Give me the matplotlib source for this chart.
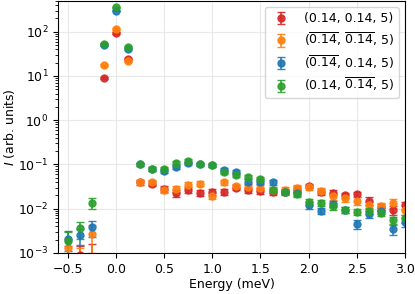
import matplotlib
matplotlib.use("Agg")
import matplotlib.pyplot as plt
import numpy as np

energy = [-0.5, -0.375, -0.25, -0.125, 0.0, 0.125, 0.25, 0.375, 0.5, 0.625, 0.75,
          0.875, 1.0, 1.125, 1.25, 1.375, 1.5, 1.625, 1.75, 1.875, 2.0, 2.125,
          2.25, 2.375, 2.5, 2.625, 2.75, 2.875, 3.0]

red = [0.0007, 0.0009, 0.0008, 9, 93, 24, 0.040, 0.037, 0.028, 0.022, 0.027,
       0.023, 0.024, 0.024, 0.030, 0.026, 0.025, 0.024, 0.024, 0.028, 0.033,
       0.024, 0.023, 0.020, 0.021, 0.015, 0.011, 0.0093, 0.012]
orange = [0.0013, 0.0008, 0.0026, 18, 117, 22, 0.040, 0.039, 0.027, 0.028, 0.035,
          0.037, 0.0195, 0.039, 0.033, 0.031, 0.030, 0.026, 0.027, 0.030, 0.031,
          0.025, 0.019, 0.017, 0.015, 0.012, 0.0115, 0.0136, 0.0093]
blue = [0.0021, 0.0025, 0.0038, 49, 300, 40, 0.10, 0.078, 0.072, 0.088, 0.105,
        0.10, 0.095, 0.074, 0.068, 0.041, 0.041, 0.039, 0.024, 0.022, 0.012,
        0.0089, 0.013, 0.0095, 0.0045, 0.0076, 0.009, 0.0034, 0.0051]
green = [0.0019, 0.0036, 0.0136, 54, 360, 45, 0.10, 0.078, 0.078, 0.108, 0.12,
         0.10, 0.096, 0.067, 0.057, 0.052, 0.048, 0.027, 0.024, 0.021, 0.0143,
         0.0136, 0.0115, 0.0093, 0.0085, 0.0089, 0.0081, 0.0055, 0.006]

red_err = [0.0007, 0.0005, 0.0008, 0.5, 4, 1.2, 0.005, 0.005, 0.004, 0.004, 0.004,
           0.004, 0.004, 0.004, 0.004, 0.004, 0.004, 0.004, 0.004, 0.004, 0.004,
           0.004, 0.003, 0.003, 0.003, 0.003, 0.002, 0.002, 0.002]
orange_err = [0.0008, 0.0005, 0.0016, 0.8, 5, 1.0, 0.005, 0.005, 0.004, 0.004, 0.005,
              0.005, 0.003, 0.005, 0.004, 0.004, 0.004, 0.004, 0.004, 0.004, 0.004,
              0.004, 0.003, 0.003, 0.003, 0.002, 0.002, 0.003, 0.002]
blue_err = [0.001, 0.001, 0.0015, 2, 10, 2, 0.010, 0.008, 0.008, 0.009, 0.010,
            0.010, 0.009, 0.008, 0.007, 0.005, 0.005, 0.005, 0.003, 0.003, 0.002,
            0.0015, 0.002, 0.0015, 0.0011, 0.0013, 0.0015, 0.0009, 0.0012]
green_err = [0.001, 0.0015, 0.004, 2, 12, 2, 0.010, 0.008, 0.008, 0.010, 0.012,
             0.010, 0.009, 0.007, 0.006, 0.006, 0.005, 0.004, 0.003, 0.003, 0.002,
             0.002, 0.002, 0.0015, 0.0015, 0.0015, 0.0013, 0.001, 0.0012]

labels = [r'(0.14, 0.14, 5)',
          r'($\overline{0.14}$, $\overline{0.14}$, 5)',
          r'($\overline{0.14}$, 0.14, 5)',
          r'(0.14, $\overline{0.14}$, 5)']
colors = ['#d62728', '#ff7f0e', '#1f77b4', '#2ca02c']
series = [red, orange, blue, green]
errs = [red_err, orange_err, blue_err, green_err]

fs = 9
fig = plt.figure(figsize=(4.15, 2.94), dpi=100)
ax = fig.add_axes([0.14, 0.14, 0.836, 0.857])
for y, e, c, lab in zip(series, errs, colors, labels):
    ax.errorbar(energy, y, yerr=e, fmt='o', color=c, markersize=5,
                capsize=3, elinewidth=1.2, alpha=0.9, label=lab)
ax.set_yscale('log')
ax.set_xlim(-0.6, 3.0)
ax.set_ylim(1e-3, 500)
ax.grid(True, color='#e8e8e8', linewidth=0.8)
ax.set_axisbelow(True)
ax.set_xlabel('Energy (meV)', fontsize=fs, labelpad=2)
ax.set_ylabel(r'$I$ (arb. units)', fontsize=fs, labelpad=1)
ax.tick_params(labelsize=fs)
ax.legend(loc='upper right', fontsize=fs, labelspacing=0.45, handletextpad=0.9,
          handlelength=1.8)
fig.savefig('out.png', dpi=100)
